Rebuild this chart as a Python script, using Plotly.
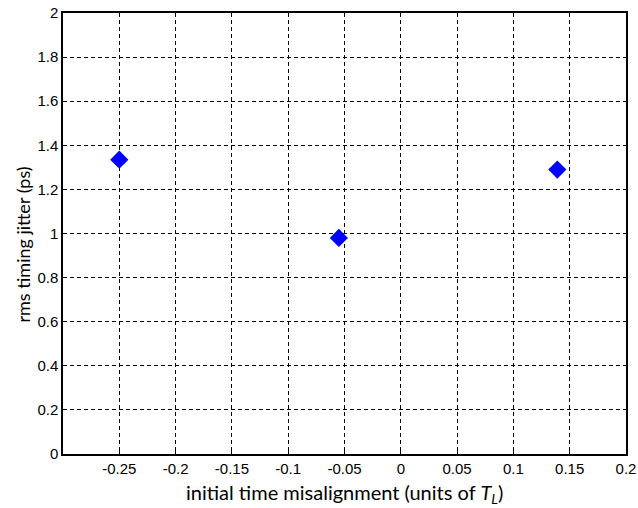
import plotly.graph_objects as go

x_vals = [-0.25, -0.055, 0.139]
y_vals = [1.335, 0.98, 1.29]
x_ticks = [-0.25, -0.2, -0.15, -0.1, -0.05, 0, 0.05, 0.1, 0.15, 0.2]
x_ticktext = ["-0.25", "-0.2", "-0.15", "-0.1", "-0.05", "0", "0.05", "0.1", "0.15", "0.2"]
y_ticks = [0, 0.2, 0.4, 0.6, 0.8, 1, 1.2, 1.4, 1.6, 1.8, 2]
y_ticktext = ["0", "0.2", "0.4", "0.6", "0.8", "1", "1.2", "1.4", "1.6", "1.8", "2"]
x_title = "initial time misalignment (units of <i>T<sub>L</sub></i>)"
y_title = "rms timing jitter (ps)"

fig = go.Figure()
fig.add_trace(go.Scatter(
    x=x_vals, y=y_vals, mode="markers",
    marker=dict(symbol="diamond", size=14, color="#0000ff", line=dict(width=0)),
    showlegend=False,
))

tickfont = dict(family="Liberation Sans, Arial", size=15, color="#000000")

fig.update_xaxes(
    range=[-0.3, 0.2], tickvals=x_ticks, ticktext=x_ticktext, automargin=False,
    showgrid=True, gridcolor="#000000", gridwidth=1, griddash="4px,3px",
    showline=True, linecolor="#000000", linewidth=1.5, mirror=True,
    ticks="inside", ticklen=3, tickcolor="#000000",
    zeroline=False, tickfont=tickfont,
)
fig.update_yaxes(
    range=[0, 2], tickvals=y_ticks, ticktext=y_ticktext, automargin=False,
    showgrid=True, gridcolor="#000000", gridwidth=1, griddash="4px,3px",
    showline=True, linecolor="#000000", linewidth=1.5, mirror=True,
    ticks="inside", ticklen=3, tickcolor="#000000",
    zeroline=False, tickfont=tickfont,
)
fig.add_annotation(
    text=x_title, xref="paper", yref="paper", x=0.5, y=0,
    xanchor="center", yanchor="middle", yshift=-39, showarrow=False,
    font=dict(family="Lato, Open Sans", size=20, color="#000000"),
)
fig.add_annotation(
    text=y_title, xref="paper", yref="paper", x=0, y=0.5, textangle=-90,
    xanchor="center", yanchor="middle", xshift=-41, yshift=-11, showarrow=False,
    font=dict(family="Lato, Open Sans", size=18, color="#000000"),
)
fig.update_layout(
    width=638, height=508,
    margin=dict(l=63, r=12, t=13, b=54),
    plot_bgcolor="#ffffff", paper_bgcolor="#ffffff",
)
fig.write_html("out.html", config={"displayModeBar": False},
               post_script="document.body.style.margin='0px';")
